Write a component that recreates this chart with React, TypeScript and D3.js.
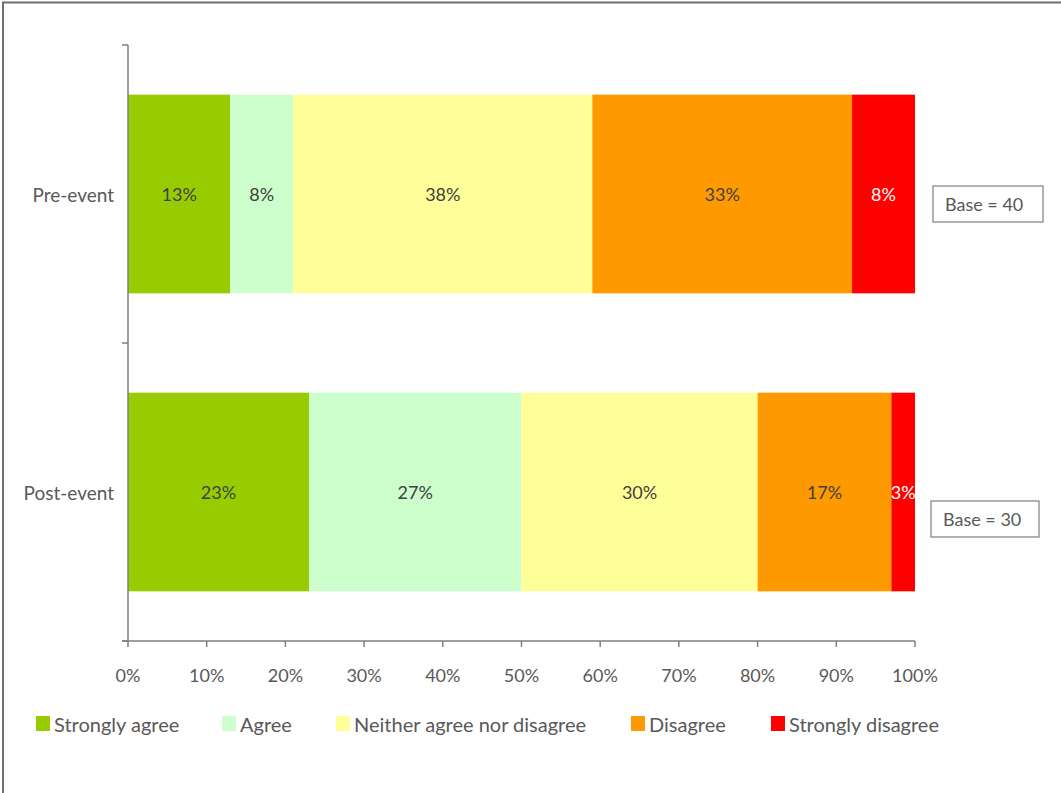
import React from "react";
import * as d3 from "d3";

const categories = ["Pre-event", "Post-event"];
const seriesNames = ["Strongly agree", "Agree", "Neither agree nor disagree", "Disagree", "Strongly disagree"];
const preValues = [13, 8, 38, 33, 8];
const postValues = [23, 27, 30, 17, 3];
const bases = ["Base = 40", "Base = 30"];
const xTicks = [0, 10, 20, 30, 40, 50, 60, 70, 80, 90, 100];
const colors = ["#99CC00", "#CCFFCC", "#FFFF99", "#FF9900", "#FF0000"];
const labelColors = ["#404040", "#404040", "#404040", "#404040", "#FFFFFF"];

const FONT = "Lato, 'Open Sans', sans-serif";
const TEXT = "#595959";

export default function App() {
  const W = 1061, H = 793;
  const x = d3.scaleLinear().domain([0, 100]).range([128, 915]);
  const y = d3.scaleBand().domain(categories).range([45, 641]).paddingInner(1 / 3).paddingOuter(1 / 6);
  const data = [preValues, postValues];
  const stacked = categories.map((c, i) => {
    let acc = 0;
    return data[i].map((v, j) => {
      const s = { cat: c, j, v, x0: acc, x1: acc + v };
      acc += v;
      return s;
    });
  });
  const legendX = [36, 222, 336, 631, 771];
  const baseBoxes = [
    { x: 933, y: 186, w: 110, h: 36 },
    { x: 931, y: 501, w: 108, h: 36 },
  ];
  const catBoundaries = [45, 343, 641];
  return (
    <svg width={W} height={H} style={{ position: "absolute", left: 0, top: 0 }} fontFamily={FONT}>
      <rect x={3} y={2.5} width={W + 10} height={H + 10} fill="white" stroke="#707070" strokeWidth={2} />
      {stacked.map((row, i) =>
        row.map((s) => (
          <rect key={`${i}-${s.j}`} x={x(s.x0)} y={y(s.cat)!} width={x(s.x1) - x(s.x0)} height={y.bandwidth()} fill={colors[s.j]} />
        ))
      )}
      {stacked.map((row, i) =>
        row.map((s) => (
          <text key={`t${i}-${s.j}`} x={(x(s.x0) + x(s.x1)) / 2} y={y(s.cat)! + y.bandwidth() / 2} textAnchor="middle" dominantBaseline="central" fontSize={18} fill={labelColors[s.j]}>
            {s.v}%
          </text>
        ))
      )}
      {/* axes */}
      <line x1={128} y1={45} x2={128} y2={641} stroke="#7f7f7f" strokeWidth={1.5} />
      {catBoundaries.map((b) => (
        <line key={b} x1={122} x2={128} y1={b} y2={b} stroke="#7f7f7f" strokeWidth={1.5} />
      ))}
      <line x1={122} y1={641} x2={915} y2={641} stroke="#7f7f7f" strokeWidth={1.5} />
      {xTicks.map((t) => (
        <g key={t}>
          <line x1={x(t)} x2={x(t)} y1={641} y2={647} stroke="#7f7f7f" strokeWidth={1.5} />
          <text x={x(t)} y={675} textAnchor="middle" dominantBaseline="central" fontSize={18} fill={TEXT}>
            {t}%
          </text>
        </g>
      ))}
      {categories.map((c) => (
        <text key={c} x={114} y={y(c)! + y.bandwidth() / 2} textAnchor="end" dominantBaseline="central" fontSize={19} fill={TEXT}>
          {c}
        </text>
      ))}
      {bases.map((b, i) => (
        <g key={b}>
          <rect x={baseBoxes[i].x} y={baseBoxes[i].y} width={baseBoxes[i].w} height={baseBoxes[i].h} fill="white" stroke="#7f7f7f" strokeWidth={1.2} />
          <text x={baseBoxes[i].x + 12} y={baseBoxes[i].y + baseBoxes[i].h / 2} dominantBaseline="central" fontSize={18} fill={TEXT}>
            {b}
          </text>
        </g>
      ))}
      {seriesNames.map((n, i) => (
        <g key={n}>
          <rect x={legendX[i]} y={716} width={14} height={15} fill={colors[i]} />
          <text x={legendX[i] + 18} y={724} dominantBaseline="central" fontSize={20} fill={TEXT}>
            {n}
          </text>
        </g>
      ))}
    </svg>
  );
}
